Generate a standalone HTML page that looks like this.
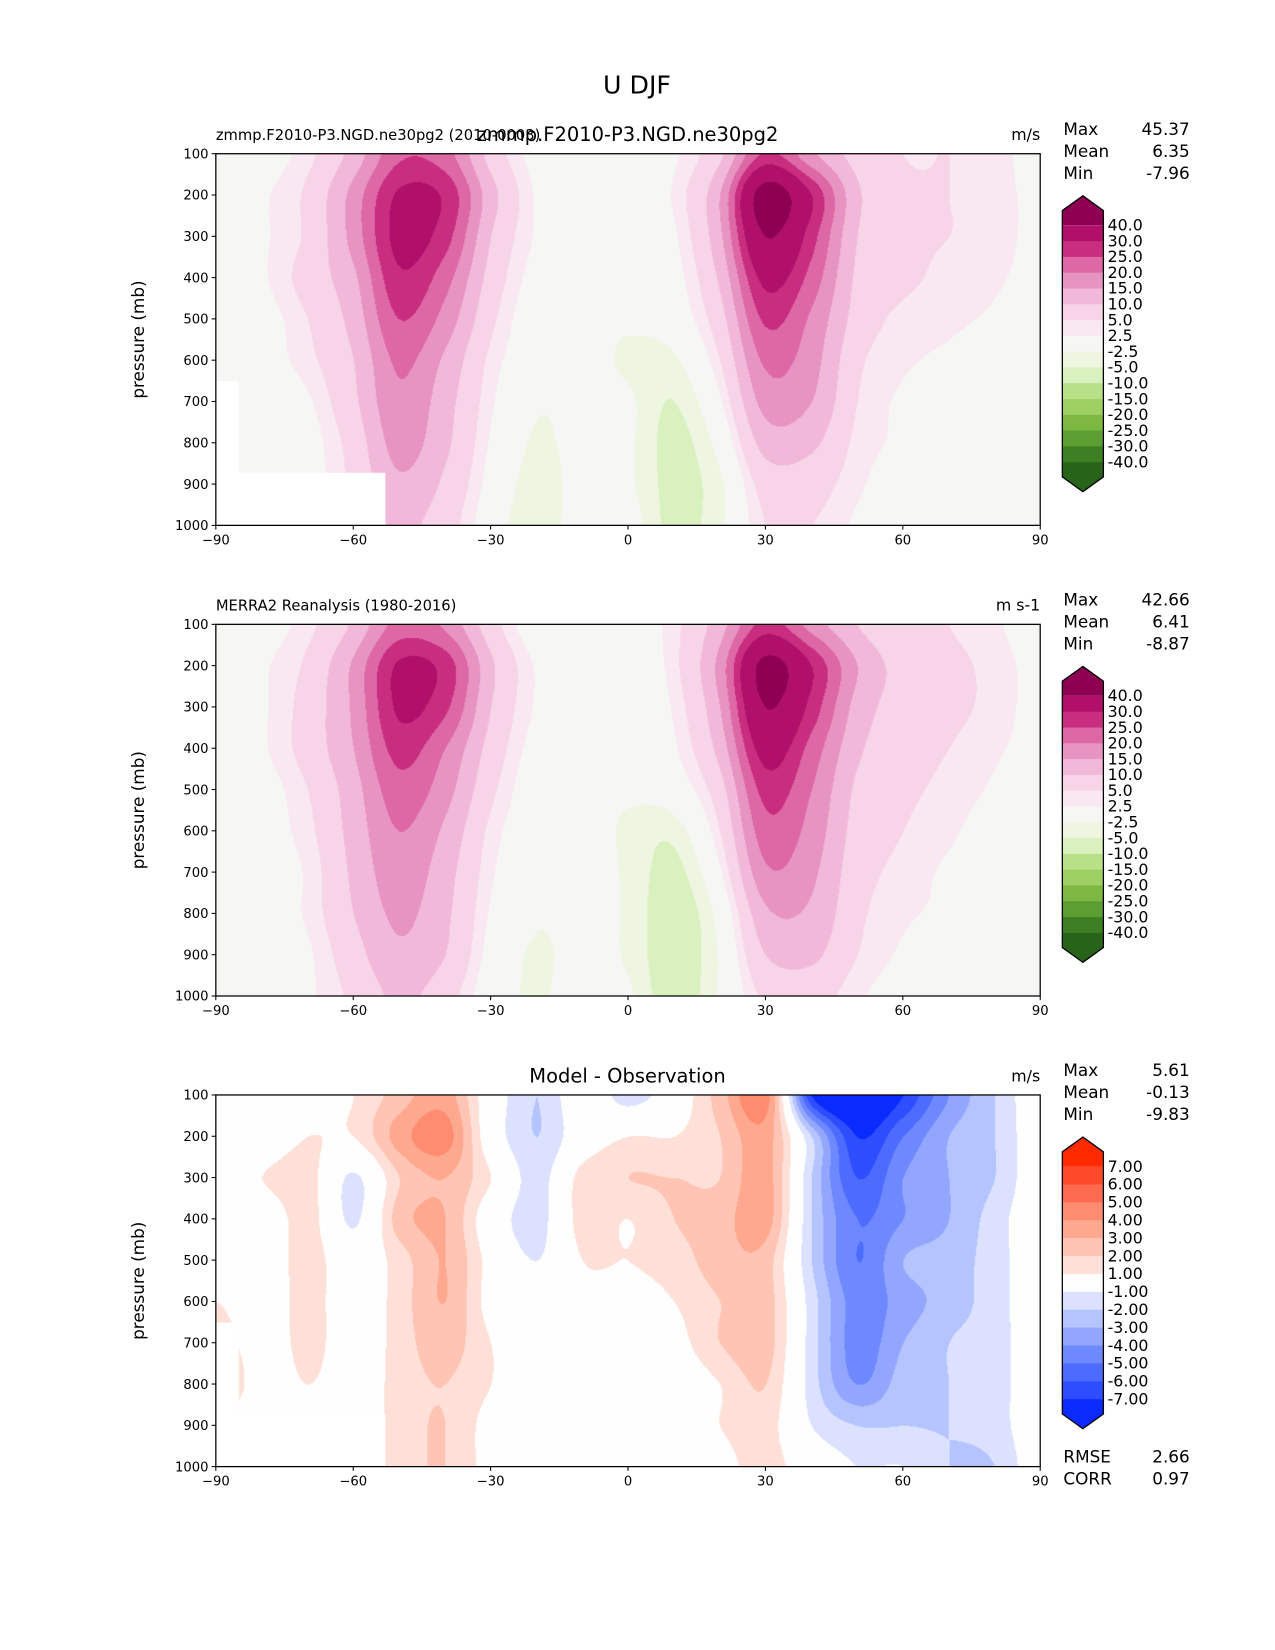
<!DOCTYPE html>
<html><head><meta charset="utf-8">
<style>
html,body{margin:0;padding:0;background:#fff;width:1275px;height:1650px;overflow:hidden}
#wrap{position:absolute;left:0;top:0;width:1211px;height:1567px;transform-origin:0 0;transform:scale(1.05285)}
canvas{position:absolute}
svg{position:absolute;left:0;top:0}
text{font-family:"DejaVu Sans","Liberation Sans",sans-serif;fill:#000}
</style></head>
<body>
<div id="wrap">
<canvas id="c0" width="783" height="353" style="left:205px;top:146px"></canvas>
<canvas id="c1" width="783" height="353" style="left:205px;top:593px"></canvas>
<canvas id="c2" width="783" height="353" style="left:205px;top:1040px"></canvas>
<svg id="svg" width="1211" height="1567"></svg>
</div>
<script>
// ---- data ----
const lats = [-90,-80,-70,-60,-50,-40,-30,-20,-10,0,10,20,30,40,50,60,70,80,90];
const pres = [100,200,300,400,500,600,700,800,900,1000];
const modelU = [
[0,1,4,12,24,22,8,1,-1,0,2,9,26,16,8,5,5,4,0],
[0,2,6,17,31,29,12,2,0,0,3,15,45,30,11,6,5,4,1],
[0,2,6,17,32,27,10,2,0,0,2,14,40,27,10,6,5,4,1],
[0,2,7,14,29,22,8,1,0,-1,1,11,32,23,9,6,4,3,1],
[0,1,5,12,25,18,6,0,-1,-2,0,8,26,19,8,4,3,2,0],
[0,1,4,10,21,14,4,0,-1,-3,-3,5,21,17,6,3,2,1,0],
[0,0,2,9,19,12,3,-2,-1,-2,-5,2,17,15,5,2,1,0,0],
[0,0,1,7,17,11,2,-3,-1,-2,-6,-1,12,11,4,2,1,0,0],
[0,0,1,6,14,9,1,-4,-1,-2,-6,-3,7,7,3,1,1,0,0],
[0,0,1,5,11,7,0,-5,0,-1,-6,-3,5,5,2,1,1,-1,0]];
const obsU = [
[0,1,4,11,22,19,7,0,-1,0,4,13,27,18,10,6,5,3,0],
[0,2,6,16,31,28,11,2,0,0,4,17,43,30,15,8,6,4,1],
[0,2,7,16,31,26,10,2,0,0,3,15,40,28,13,8,6,4,1],
[0,2,7,15,27,20,8,1,0,-1,2,12,33,23,11,7,5,3,1],
[0,1,5,13,23,17,6,0,-1,-2,0,8,27,20,9,6,4,2,0],
[-1,1,4,12,20,14,4,0,-1,-3,-4,5,23,18,8,5,3,1,0],
[-2,1,3,11,18,12,3,-1,-1,-3,-6,2,19,16,7,4,2,1,0],
[-2,1,3,10,16,11,2,-2,-1,-3,-7,-1,14,14,6,3,2,1,0],
[-2,1,2,8,14,10,1,-3,-1,-3,-7,-2,10,11,5,2,1,0,0],
[-1,1,2,6,11,7,0,-3,0,-2,-7,-2,6,7,3,1,1,0,0]];
const diffU = [
[0,0,0,1,2.5,3.5,0,-2,0,-1.5,0,2.5,4.5,-7,-9,-7,-4,-2,0],
[0,0,1,1,3.5,4.5,0,-2,0,1,1,2,3.5,-2,-7,-5,-3,-2,0],
[0,1,1.5,-1.2,2,3,1,-1.5,1.5,2,2,2,3.5,-2,-6,-4,-3,-2,0],
[1,0,1.5,-1.2,2.5,3,0,-1.5,1.5,1,2,2.5,3.5,-2,-5,-4,-3,-1.5,0],
[0,0,1.5,0,1.5,3,0.5,-1,1,1,1.5,2.5,2.5,-2,-5,-3,-2.5,-1.5,0],
[1,0,1.5,0,1.5,3,0.5,0,0.5,0.5,1,2,2.5,-1.5,-4.5,-3.5,-2.5,-1.5,0],
[2,0,1.5,0,1.5,2.5,1,0,0,0,0.5,2,2.5,-1.5,-4.5,-3,-2,-1.5,0],
[3,0,1,0,1.5,2,1,0,0,0,0,1,2,-1.5,-4,-2.5,-2,-1.5,0],
[0,0,0,0,1.5,2,0.5,0,0,0,0,1,1.5,-1,-2,-2,-2,-1.5,0],
[0,0,0,0,1.5,2,0.5,0,0,0,0,0.5,1.5,0,-1,-1,-2,-2,0]];
const uLevels = [-40,-30,-25,-20,-15,-10,-5,-2.5,2.5,5,10,15,20,25,30,40];
const uColors = ['#276419','#3d7f22','#5c9e31','#7db843','#9dcf62','#b8e086','#d9f0bf','#eef5e0','#f6f6f4','#f9e8f1','#f8d4e8','#f2b8d9','#e794c2','#de67a6','#c82d80','#b0106a','#8e0152'];
const dLevels = [-7,-6,-5,-4,-3,-2,-1,1,2,3,4,5,6,7];
const dColors = ['#0a2aff','#2d4dff','#4d6bff','#6e88ff','#92a6ff','#b5c3ff','#dbe1ff','#fefefe','#ffe0d8','#ffc4b4','#ffa890','#ff8c70','#ff6a50','#ff4a2a','#ff2a00'];
const uLabels = ['40.0','30.0','25.0','20.0','15.0','10.0','5.0','2.5','-2.5','-5.0','-10.0','-15.0','-20.0','-25.0','-30.0','-40.0'];
const dLabels = ['7.00','6.00','5.00','4.00','3.00','2.00','1.00','-1.00','-2.00','-3.00','-4.00','-5.00','-6.00','-7.00'];
const xTicks = [-90,-60,-30,0,30,60,90];
const yTicks = [100,200,300,400,500,600,700,800,900,1000];
const stats = [["45.37","6.35","-7.96"],["42.66","6.41","-8.87"],["5.61","-0.13","-9.83"]];

// ---- rendering ----
const X0=205,W=783,H=353, tops=[146,593,1040];
const xOf = lat => X0 + (lat+90)/180*W;
const yOf = (p,t) => t + (p-100)/900*H;
function hex(c){return [parseInt(c.slice(1,3),16),parseInt(c.slice(3,5),16),parseInt(c.slice(5,7),16)];}
function cr(p0,p1,p2,p3,t){return 0.5*((2*p1)+(-p0+p2)*t+(2*p0-5*p1+4*p2-p3)*t*t+(-p0+3*p1-3*p2+p3)*t*t*t);}
function sample(g,lat,p){
  const ni=g[0].length,nj=g.length;
  let fi=(lat-lats[0])/10, fj=(p-pres[0])/100;
  fi=Math.max(0,Math.min(ni-1.0001,fi)); fj=Math.max(0,Math.min(nj-1.0001,fj));
  const i=Math.floor(fi),j=Math.floor(fj),a=fi-i,b=fj-j;
  const ci=k=>Math.max(0,Math.min(ni-1,k)),cj=k=>Math.max(0,Math.min(nj-1,k));
  const rows=[];
  for(let m=-1;m<=2;m++){const r=g[cj(j+m)];rows.push(cr(r[ci(i-1)],r[ci(i)],r[ci(i+1)],r[ci(i+2)],a));}
  return cr(rows[0],rows[1],rows[2],rows[3],b);
}
function paint(id,g,levels,colors,masks){
  const cv=document.getElementById(id),ctx=cv.getContext('2d');
  const img=ctx.createImageData(W,H),cols=colors.map(hex);
  for(let y=0;y<H;y++){const p=100+y/H*900;
    for(let x=0;x<W;x++){const lat=-90+x/W*180;
      let v=sample(g,lat,p),k=0; while(k<levels.length&&v>=levels[k])k++;
      let c=cols[k];
      for(const m of masks){ if(lat>=m[0]&&lat<=m[1]&&p>=m[2]) c=[255,255,255]; }
      const o=(y*W+x)*4; img.data[o]=c[0];img.data[o+1]=c[1];img.data[o+2]=c[2];img.data[o+3]=255;}}
  ctx.putImageData(img,0,0);
}
const masks=[[-90,-53,870],[-90,-85,650]];
paint('c0',modelU,uLevels,uColors,masks);
paint('c1',obsU,uLevels,uColors,[]);
paint('c2',diffU,dLevels,dColors,masks);

const svg=document.getElementById('svg'),NS='http://www.w3.org/2000/svg';
function el(tag,attrs,txt){const e=document.createElementNS(NS,tag);for(const k in attrs)e.setAttribute(k,attrs[k]);if(txt!==undefined)e.textContent=txt;svg.appendChild(e);return e;}
let t=el('text',{x:605,y:89,'font-size':24,'text-anchor':'middle'},'U DJF');



const titles=[["zmmp.F2010-P3.NGD.ne30pg2 (2010-0003)","zmmp.F2010-P3.NGD.ne30pg2","m/s"],["MERRA2 Reanalysis (1980-2016)","","m s-1"],["","Model - Observation","m/s"]];
tops.forEach((T,pi)=>{
  const r=el('rect',{x:X0,y:T,width:W,height:H,fill:'none',stroke:'#000','stroke-width':1.2});
  
  
  if(titles[pi][0]){t=el('text',{x:205,y:T-13,'font-size':14},titles[pi][0]);
    
    }
  if(titles[pi][1]){t=el('text',{x:596,y:T-12,'font-size':18.5,'text-anchor':'middle'},titles[pi][1]);
    
    }
  t=el('text',{x:988,y:T-13,'font-size':15,'text-anchor':'end'},titles[pi][2]);
  
  
  xTicks.forEach(v=>{const x=xOf(v);
    el('line',{x1:x,x2:x,y1:T+H,y2:T+H+4,stroke:'#000'});
    t=el('text',{x:x,y:T+H+18,'font-size':12.5,'text-anchor':'middle'},v<0?'\u2212'+(-v):''+v);
    
    });
  yTicks.forEach(v=>{const y=yOf(v,T);
    el('line',{x1:X0-4,x2:X0,y1:y,y2:y,stroke:'#000'});
    t=el('text',{x:X0-7,y:y+4.5,'font-size':12.5,'text-anchor':'end'},''+v);
    
    });
  t=el('text',{x:0,y:0,'font-size':16,'text-anchor':'middle',transform:`translate(137,${T+H/2}) rotate(-90)`},'pressure (mb)');
  
  
  ['Max','Mean','Min'].forEach((s,i)=>{
    t=el('text',{x:1010,y:T-18+i*21,'font-size':16},s);
    
    
    t=el('text',{x:1130,y:T-18+i*21,'font-size':16,'text-anchor':'end'},stats[pi][i]);
    
    });
});
function colorbar(top,step,labels,colors,name){
  const L=1009,R=1048,n=labels.length,first=top+28,last=first+(n-1)*step;
  const cols=colors.slice().reverse();
  let p=el('polygon',{points:`${L},${top+14} ${(L+R)/2},${top} ${R},${top+14} ${R},${first} ${L},${first}`,fill:cols[0]});
  
  
  for(let i=0;i<n-1;i++){const r=el('rect',{x:L,y:first+i*step,width:R-L,height:step+0.5,fill:cols[i+1]});
    
    }
  p=el('polygon',{points:`${L},${last} ${R},${last} ${R},${last+14} ${(L+R)/2},${last+28} ${L},${last+14}`,fill:cols[cols.length-1]});
  
  
  el('polygon',{points:`${L},${top+14} ${(L+R)/2},${top} ${R},${top+14} ${R},${last+14} ${(L+R)/2},${last+28} ${L},${last+14}`,fill:'none',stroke:'#000','stroke-width':1.2});
  labels.forEach((s,i)=>{t=el('text',{x:1052,y:first+i*step+5,'font-size':15},s);
    
    });
}
colorbar(186,15,uLabels,uColors,'colorbar-model');
colorbar(633,15,uLabels,uColors,'colorbar-obs');
colorbar(1080,17,dLabels,dColors,'colorbar-diff');
[['RMSE','2.66',1389],['CORR','0.97',1410]].forEach(r=>{
  t=el('text',{x:1010,y:r[2],'font-size':16},r[0]);
  
  
  t=el('text',{x:1130,y:r[2],'font-size':16,'text-anchor':'end'},r[1]);
  
  });
</script>
</body></html>
